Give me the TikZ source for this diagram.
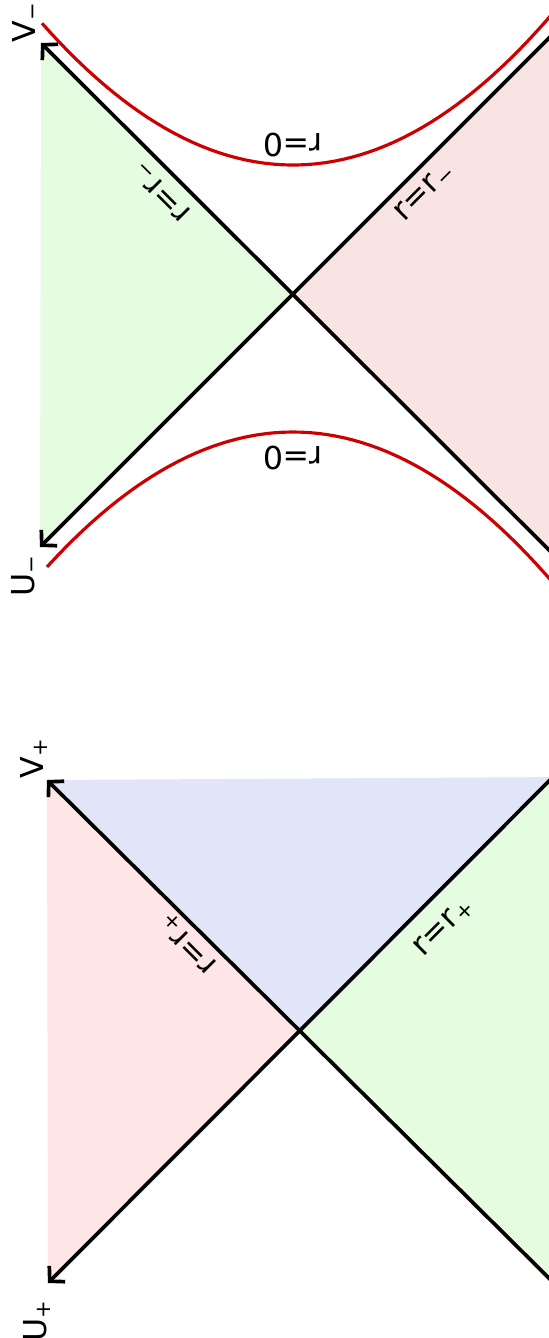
\documentclass[tikz,border=0pt]{standalone}
\usepackage{fontspec}
\setmainfont{DejaVu Sans}
\usetikzlibrary{arrows.meta}

\definecolor{rgreen}{RGB}{229,252,224}
\definecolor{rpinkA}{RGB}{249,228,228}
\definecolor{rpinkB}{RGB}{254,230,230}
\definecolor{rblue}{RGB}{226,228,248}
\definecolor{rred}{RGB}{204,0,0}

\newcommand{\sbm}{\textsubscript{\char"2212}}
\newcommand{\sbp}{\textsubscript{+}}

\tikzset{
  horizon/.style={line width=1.05pt},
  axisline/.style={horizon,-{Straight Barb[length=3pt,width=6.4pt]}},
  singular/.style={line width=0.9pt,draw=rred},
  lbl/.style={font=\fontsize{9}{10}\selectfont,inner sep=0pt}
}

\begin{document}
\begin{tikzpicture}[x=1cm,y=-1cm]
	\useasboundingbox (0,0) rectangle (5.49,13.38);
	\clip (0,0) rectangle (5.49,13.38);
%
	% interior of the black hole (top)
	\coordinate (c1) at (2.93,2.94);
	\coordinate (vm) at (0.41,0.43);
	\coordinate (um) at (0.40,5.47);
	\coordinate (ne1) at (5.70,0.17);
	\coordinate (se1) at (5.70,5.71);
	\fill[rgreen] (vm) -- (c1) -- (um) -- cycle;
	\fill[rpinkA] (c1) -- (ne1) -- (se1) -- cycle;
	\draw[axisline] (se1) -- (vm);
	\draw[axisline] (ne1) -- (um);
	\draw[singular] plot[domain=-2.51:2.7,samples=60] ({2.93+\x},{1.65-0.225*\x*\x});
	\draw[singular] plot[domain=-2.46:2.7,samples=60] ({2.93+\x},{4.32+0.223*\x*\x});
%
	\node[lbl,rotate=180] (s1) at (2.93,1.45) {r=0};
	\node[lbl,rotate=180] (s2) at (2.93,4.58) {r=0};
	\node[lbl,rotate=135] (h1) at (1.62,1.91) {r=r\sbm};
	\node[lbl,rotate=45] (h2) at (4.25,1.92) {r=r\sbm};
	\node[lbl,rotate=90] (lv1) at (0.26,0.22) {V\sbm};
	\node[lbl,rotate=90] (lu1) at (0.25,5.75) {U\sbm};
%
	% exterior region (bottom)
	\coordinate (c2) at (3.01,10.30);
	\coordinate (vp) at (0.47,7.80);
	\coordinate (up) at (0.48,12.83);
	\coordinate (ne2) at (5.70,7.60);
	\coordinate (se2) at (5.70,12.99);
	\coordinate (tr) at (5.70,7.77);
	\fill[rpinkB] (vp) -- (c2) -- (up) -- cycle;
	\fill[rblue] (vp) -- (tr) -- (ne2) -- (c2) -- cycle;
	\fill[rgreen] (c2) -- (ne2) -- (se2) -- cycle;
	\draw[axisline] (se2) -- (vp);
	\draw[axisline] (ne2) -- (up);
%
	\node[lbl,rotate=135] (h3) at (1.88,9.43) {r=r\sbp};
	\node[lbl,rotate=45] (h4) at (4.44,9.27) {r=r\sbp};
	\node[lbl,rotate=90] (lv2) at (0.34,7.58) {V\sbp};
	\node[lbl,rotate=90] (lu2) at (0.37,13.20) {U\sbp};
\end{tikzpicture}
\end{document}
